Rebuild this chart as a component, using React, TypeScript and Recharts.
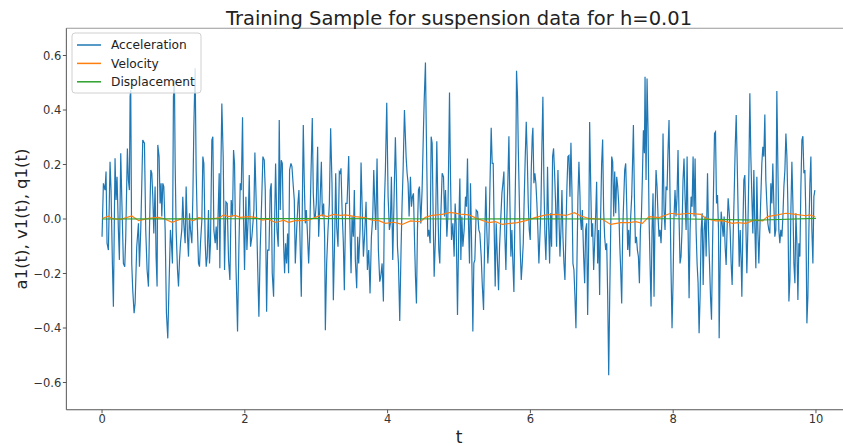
import React from 'react';
import { LineChart, Line, XAxis, YAxis, ReferenceLine } from 'recharts';

// [t, value] samples
const acceleration: [number, number][] = [
  [0, -0.065], [0.019, 0.131], [0.042, 0.106], [0.056, 0.174], [0.07, -0.089], [0.089, -0.114], [0.112, 0.21], [0.126, 0.106],
  [0.145, -0.163], [0.159, -0.322], [0.182, 0.223], [0.196, 0.07], [0.21, 0.155], [0.229, -0.04], [0.243, -0.15], [0.262, 0.241],
  [0.276, 0.082], [0.299, -0.163], [0.318, -0.175], [0.332, -0.065], [0.355, 0.259], [0.369, 0.143], [0.383, 0.106], [0.393, 0.449],
  [0.402, 0.473], [0.416, -0.163], [0.43, -0.261], [0.449, -0.346], [0.463, -0.309], [0.486, -0.102], [0.51, -0.016], [0.524, -0.175],
  [0.542, -0.04], [0.556, 0.119], [0.57, 0.29], [0.594, 0.278], [0.612, -0.04], [0.631, -0.187], [0.65, -0.248], [0.664, -0.04],
  [0.683, 0.18], [0.697, 0.168], [0.711, 0.082], [0.725, -0.053], [0.743, 0.119], [0.757, -0.138], [0.771, -0.248], [0.781, 0.272],
  [0.799, 0.229], [0.813, 0.057], [0.827, 0.131], [0.837, 0.009], [0.851, 0.131], [0.865, 0.119], [0.884, -0.04], [0.902, -0.346],
  [0.921, -0.438], [0.94, -0.224], [0.958, -0.04], [0.972, -0.089], [0.986, -0.163], [1.0, 0.449], [1.014, 0.51], [1.024, 0.204],
  [1.038, -0.04], [1.057, -0.187], [1.071, -0.248], [1.085, -0.15], [1.099, -0.089], [1.117, -0.04], [1.131, 0.082], [1.145, -0.016],
  [1.164, -0.089], [1.178, 0.119], [1.197, -0.065], [1.211, -0.138], [1.225, 0.021], [1.239, -0.04], [1.258, -0.089], [1.272, 0.082],
  [1.286, 0.339], [1.295, 0.449], [1.304, 0.553], [1.318, 0.18], [1.332, 0.009], [1.351, -0.163], [1.365, -0.175], [1.379, -0.089],
  [1.398, -0.004], [1.412, 0.229], [1.426, 0.204], [1.445, -0.089], [1.459, -0.175], [1.473, -0.138], [1.491, 0.033], [1.505, -0.163],
  [1.519, -0.089], [1.538, 0.29], [1.552, 0.302], [1.566, -0.04], [1.585, -0.089], [1.599, -0.028], [1.613, -0.114], [1.627, 0.033],
  [1.641, 0.168], [1.65, -0.181], [1.664, 0.168], [1.678, 0.424], [1.697, 0.229], [1.716, -0.187], [1.735, 0.063], [1.753, 0.057],
  [1.772, -0.15], [1.791, -0.224], [1.809, 0.07], [1.828, 0.009], [1.842, 0.253], [1.856, 0.204], [1.875, -0.163], [1.898, -0.413],
  [1.917, -0.102], [1.936, 0.131], [1.95, 0.106], [1.968, 0.373], [1.982, 0.009], [1.996, -0.187], [2.015, 0.082], [2.029, -0.114],
  [2.048, 0.009], [2.062, 0.161], [2.08, -0.102], [2.099, -0.065], [2.113, -0.016], [2.127, 0.033], [2.141, 0.244], [2.16, 0.057],
  [2.179, -0.163], [2.197, -0.359], [2.216, -0.102], [2.235, 0.057], [2.253, 0.229], [2.272, 0.216], [2.286, 0.106], [2.305, -0.34],
  [2.319, -0.114], [2.338, -0.114], [2.356, 0.106], [2.37, 0.131], [2.384, -0.199], [2.403, -0.285], [2.417, -0.016], [2.431, 0.204],
  [2.45, -0.04], [2.468, -0.102], [2.482, 0.363], [2.496, 0.033], [2.51, 0.216], [2.525, 0.204], [2.543, -0.089], [2.557, -0.199],
  [2.571, -0.089], [2.585, -0.163], [2.599, -0.053], [2.613, -0.199], [2.627, 0.18], [2.646, 0.204], [2.66, 0.192], [2.679, 0.119],
  [2.693, 0.07], [2.707, -0.163], [2.726, -0.04], [2.744, 0.057], [2.758, 0.106], [2.772, -0.065], [2.791, -0.285], [2.81, 0.155],
  [2.819, 0.345], [2.833, 0.131], [2.847, -0.016], [2.861, 0.033], [2.875, -0.04], [2.894, -0.163], [2.908, -0.065], [2.927, 0.168],
  [2.945, 0.371], [2.959, 0.094], [2.973, 0.009], [2.987, 0.009], [3.001, 0.057], [3.02, 0.265], [3.034, -0.065], [3.053, 0.057],
  [3.072, 0.21], [3.086, 0.009], [3.104, 0.057], [3.118, -0.065], [3.128, -0.408], [3.146, -0.163], [3.165, -0.04], [3.184, 0.057],
  [3.202, 0.333], [3.221, 0.131], [3.24, -0.298], [3.259, -0.065], [3.273, 0.168], [3.287, -0.028], [3.305, -0.102], [3.324, 0.174],
  [3.338, 0.168], [3.347, 0.186], [3.361, 0.045], [3.38, -0.089], [3.394, -0.261], [3.413, 0.057], [3.432, 0.057], [3.455, 0.231],
  [3.469, 0.009], [3.488, -0.199], [3.502, 0.009], [3.52, -0.065], [3.534, 0.106], [3.548, -0.15], [3.567, -0.254], [3.581, -0.065],
  [3.595, -0.163], [3.614, -0.04], [3.628, 0.207], [3.642, 0.057], [3.661, -0.138], [3.679, -0.053], [3.698, 0.063], [3.717, -0.187],
  [3.735, -0.114], [3.754, -0.273], [3.773, -0.065], [3.792, 0.009], [3.806, 0.18], [3.82, 0.057], [3.834, -0.04], [3.852, 0.222],
  [3.871, -0.114], [3.89, -0.23], [3.904, -0.212], [3.923, -0.163], [3.941, -0.303], [3.955, 0.057], [3.969, 0.18], [3.988, 0.427],
  [4.007, 0.082], [4.025, -0.04], [4.039, -0.016], [4.053, 0.155], [4.072, -0.15], [4.091, 0.082], [4.109, 0.3], [4.124, 0.131],
  [4.138, -0.102], [4.152, -0.163], [4.17, -0.374], [4.189, -0.102], [4.203, 0.057], [4.217, 0.18], [4.236, 0.4], [4.259, 0.229],
  [4.273, 0.168], [4.287, 0.131], [4.301, 0.009], [4.32, 0.155], [4.334, 0.045], [4.348, 0.082], [4.362, 0.094], [4.376, -0.065],
  [4.39, -0.212], [4.404, -0.31], [4.418, -0.04], [4.432, 0.106], [4.446, 0.119], [4.465, -0.016], [4.483, 0.106], [4.502, 0.326],
  [4.512, 0.43], [4.53, 0.574], [4.54, 0.363], [4.549, 0.192], [4.563, -0.065], [4.577, -0.04], [4.596, -0.089], [4.61, 0.302],
  [4.624, 0.278], [4.638, 0.009], [4.652, -0.212], [4.67, -0.065], [4.689, 0.285], [4.703, 0.057], [4.717, -0.114], [4.731, -0.163],
  [4.745, 0.009], [4.764, 0.168], [4.783, 0.155], [4.797, 0.009], [4.811, 0.106], [4.83, -0.065], [4.844, 0.009], [4.857, 0.253],
  [4.867, 0.464], [4.881, 0.155], [4.895, -0.077], [4.914, -0.016], [4.932, -0.138], [4.946, 0.057], [4.96, -0.016], [4.979, -0.352],
  [4.998, -0.016], [5.012, 0.149], [5.026, -0.15], [5.04, 0.009], [5.054, -0.102], [5.072, -0.04], [5.091, 0.082], [5.105, 0.045],
  [5.119, 0.222], [5.133, -0.016], [5.147, -0.163], [5.161, 0.131], [5.175, -0.065], [5.194, -0.413], [5.208, -0.163], [5.222, -0.15],
  [5.241, 0.033], [5.26, 0.027], [5.278, -0.04], [5.292, -0.053], [5.311, -0.138], [5.325, -0.236], [5.344, -0.334], [5.358, -0.102],
  [5.376, 0.119], [5.39, -0.04], [5.404, -0.163], [5.418, -0.089], [5.437, 0.168], [5.451, 0.335], [5.465, 0.204], [5.479, 0.204],
  [5.493, -0.04], [5.507, -0.248], [5.521, -0.016], [5.54, -0.163], [5.554, -0.261], [5.568, -0.102], [5.582, -0.016], [5.601, 0.094],
  [5.615, 0.131], [5.629, 0.174], [5.643, -0.065], [5.657, -0.187], [5.671, 0.009], [5.685, 0.143], [5.699, 0.304], [5.713, 0.057],
  [5.727, -0.138], [5.741, -0.04], [5.755, -0.163], [5.769, -0.268], [5.783, 0.009], [5.797, 0.253], [5.806, 0.544], [5.82, 0.449],
  [5.83, 0.265], [5.844, 0.082], [5.858, -0.114], [5.872, -0.224], [5.886, -0.163], [5.9, -0.089], [5.914, 0.082], [5.928, 0.229],
  [5.942, 0.357], [5.956, 0.229], [5.97, 0.057], [5.984, -0.04], [5.998, -0.077], [6.012, 0.18], [6.026, 0.302], [6.035, 0.335],
  [6.049, 0.131], [6.063, 0.168], [6.077, 0.131], [6.091, 0.057], [6.105, -0.04], [6.119, -0.163], [6.133, -0.065], [6.147, 0.033],
  [6.161, 0.265], [6.175, 0.449], [6.189, 0.143], [6.203, -0.053], [6.217, -0.15], [6.231, 0.009], [6.24, 0.192], [6.255, -0.016],
  [6.269, -0.163], [6.283, 0.021], [6.297, -0.102], [6.311, 0.229], [6.325, 0.259], [6.339, 0.168], [6.353, 0.057], [6.367, -0.102],
  [6.386, 0.18], [6.4, 0.009], [6.414, -0.138], [6.428, -0.04], [6.442, 0.106], [6.456, -0.065], [6.47, -0.163], [6.484, -0.224],
  [6.498, -0.04], [6.512, 0.119], [6.526, 0.229], [6.54, 0.233], [6.554, 0.082], [6.568, 0.28], [6.582, 0.106], [6.596, -0.163],
  [6.61, -0.187], [6.624, -0.285], [6.638, -0.401], [6.652, -0.163], [6.666, 0.082], [6.68, 0.21], [6.695, 0.082], [6.699, 0.009],
  [6.714, -0.04], [6.728, 0.033], [6.746, -0.138], [6.76, -0.236], [6.774, -0.04], [6.788, -0.016], [6.802, -0.352], [6.816, -0.102],
  [6.83, 0.356], [6.844, 0.143], [6.858, -0.065], [6.872, -0.016], [6.886, -0.187], [6.9, -0.089], [6.914, 0.009], [6.928, 0.137],
  [6.942, -0.163], [6.956, -0.04], [6.97, -0.279], [6.984, 0.009], [6.998, 0.204], [7.012, 0.292], [7.026, 0.033], [7.04, -0.065],
  [7.055, -0.114], [7.069, -0.089], [7.083, -0.285], [7.097, -0.573], [7.111, -0.285], [7.125, -0.04], [7.139, 0.229], [7.153, 0.21],
  [7.167, 0.009], [7.181, 0.174], [7.195, 0.021], [7.209, 0.155], [7.223, 0.119], [7.237, 0.057], [7.251, -0.089], [7.265, -0.187],
  [7.279, -0.31], [7.293, -0.04], [7.307, 0.07], [7.321, 0.18], [7.335, 0.204], [7.349, 0.057], [7.363, -0.114], [7.377, -0.04],
  [7.391, -0.138], [7.405, 0.009], [7.419, 0.082], [7.433, 0.229], [7.443, 0.345], [7.457, 0.082], [7.471, -0.089], [7.485, -0.065],
  [7.499, -0.114], [7.513, -0.138], [7.527, -0.236], [7.541, -0.04], [7.555, 0.009], [7.569, 0.155], [7.583, 0.326], [7.597, 0.241],
  [7.606, 0.522], [7.62, 0.143], [7.634, 0.516], [7.648, 0.326], [7.662, 0.009], [7.676, -0.163], [7.69, -0.321], [7.704, -0.04],
  [7.718, 0.094], [7.732, -0.285], [7.746, 0.009], [7.76, 0.18], [7.774, 0.119], [7.788, 0.009], [7.802, -0.065], [7.816, -0.04],
  [7.83, -0.089], [7.844, 0.009], [7.858, 0.314], [7.872, 0.033], [7.886, -0.04], [7.9, 0.119], [7.914, 0.106], [7.928, 0.253],
  [7.942, 0.363], [7.956, 0.082], [7.97, -0.187], [7.984, -0.401], [7.998, -0.236], [8.012, 0.009], [8.026, 0.106], [8.04, 0.009],
  [8.054, 0.082], [8.068, 0.253], [8.082, 0.009], [8.096, -0.163], [8.11, -0.138], [8.124, -0.04], [8.138, 0.143], [8.152, 0.222],
  [8.166, 0.082], [8.181, -0.04], [8.195, 0.229], [8.209, -0.04], [8.223, -0.291], [8.237, -0.04], [8.251, 0.082], [8.265, 0.045],
  [8.279, 0.229], [8.293, 0.009], [8.307, 0.222], [8.321, -0.04], [8.335, -0.163], [8.349, -0.236], [8.363, -0.419], [8.377, -0.285],
  [8.392, -0.04], [8.406, 0.021], [8.42, -0.242], [8.434, -0.04], [8.448, 0.009], [8.462, -0.138], [8.481, 0.168], [8.495, -0.04],
  [8.509, -0.163], [8.523, -0.285], [8.537, -0.37], [8.551, -0.102], [8.565, 0.106], [8.579, 0.314], [8.593, 0.32], [8.607, 0.057],
  [8.621, 0.088], [8.635, -0.04], [8.644, -0.438], [8.658, -0.163], [8.672, 0.027], [8.686, -0.016], [8.7, -0.065], [8.714, 0.009],
  [8.728, -0.102], [8.742, -0.169], [8.756, -0.028], [8.77, 0.076], [8.784, 0.027], [8.798, -0.04], [8.812, -0.163], [8.826, -0.242],
  [8.84, -0.065], [8.854, 0.082], [8.869, 0.265], [8.883, 0.382], [8.897, 0.204], [8.911, 0.009], [8.925, -0.175], [8.939, -0.04],
  [8.953, -0.163], [8.962, -0.285], [8.976, -0.04], [8.99, 0.143], [9.004, 0.161], [9.018, -0.016], [9.032, -0.199], [9.046, -0.04],
  [9.06, 0.168], [9.074, 0.461], [9.088, 0.229], [9.102, 0.082], [9.116, -0.053], [9.13, 0.18], [9.144, -0.028], [9.158, -0.181],
  [9.172, 0.155], [9.186, -0.04], [9.2, -0.163], [9.214, -0.04], [9.228, 0.082], [9.242, 0.204], [9.256, 0.265], [9.27, 0.229],
  [9.284, 0.383], [9.298, 0.143], [9.312, 0.057], [9.326, -0.016], [9.34, -0.04], [9.354, -0.053], [9.368, 0.131], [9.382, 0.057],
  [9.396, 0.204], [9.41, 0.057], [9.424, -0.065], [9.438, -0.04], [9.452, 0.47], [9.466, 0.204], [9.48, -0.04], [9.494, -0.089],
  [9.508, -0.04], [9.523, -0.065], [9.537, 0.009], [9.551, 0.119], [9.565, 0.18], [9.579, 0.314], [9.593, 0.229], [9.607, 0.045],
  [9.621, -0.303], [9.635, -0.224], [9.649, 0.033], [9.663, 0.21], [9.677, 0.057], [9.691, -0.163], [9.705, -0.236], [9.719, 0.021],
  [9.733, -0.089], [9.747, -0.297], [9.761, -0.089], [9.775, -0.138], [9.789, 0.119], [9.803, 0.29], [9.817, 0.304], [9.831, 0.168],
  [9.845, 0.18], [9.859, 0.009], [9.873, -0.383], [9.887, -0.285], [9.901, -0.04], [9.915, 0.131], [9.929, 0.229], [9.943, -0.04],
  [9.957, -0.163], [9.971, 0.082], [9.985, 0.106],
];

const velocity: [number, number][] = [
  [0, 0.002], [0.089, 0.01], [0.136, 0.002], [0.25, -0.002], [0.416, 0.011], [0.514, -0.006], [0.65, 0.002], [0.79, 0.006],
  [0.86, 0.002], [0.982, -0.012], [1.117, 0.001], [1.187, 0], [1.281, -0.006], [1.351, 0.005], [1.445, 0.001], [1.538, 0.001],
  [1.641, 0.004], [1.702, 0.015], [1.772, 0.009], [1.865, 0.013], [1.936, 0.006], [2.052, 0.009], [2.146, 0.006], [2.239, -0.004],
  [2.333, -0.001], [2.426, -0.012], [2.473, -0.01], [2.543, -0.004], [2.613, -0.012], [2.707, -0.006], [2.8, -0.006], [2.894, -0.004],
  [2.987, 0.006], [3.081, 0.015], [3.151, 0.009], [3.245, 0.017], [3.338, 0.013], [3.408, 0.015], [3.548, 0.009], [3.689, 0.005],
  [3.782, -0.004], [3.876, -0.006], [3.969, -0.016], [4.086, -0.012], [4.203, -0.02], [4.32, -0.007], [4.46, -0.01], [4.53, 0.006],
  [4.624, 0.013], [4.764, 0.017], [4.881, 0.024], [5.021, 0.018], [5.138, 0.015], [5.278, -0.001], [5.418, -0.013], [5.512, -0.01],
  [5.605, -0.02], [5.722, -0.016], [5.816, -0.013], [5.937, -0.006], [6.077, 0.006], [6.217, 0.015], [6.358, 0.017], [6.498, 0.013],
  [6.615, 0.023], [6.708, 0.011], [6.821, 0.002], [7.008, -0.001], [7.125, -0.02], [7.265, -0.013], [7.382, -0.013], [7.475, -0.01],
  [7.569, -0.016], [7.662, 0.009], [7.802, 0.005], [7.966, 0.021], [8.082, 0.017], [8.223, 0.021], [8.386, 0.017], [8.457, 0.002],
  [8.597, -0.007], [8.691, -0.006], [8.831, -0.016], [8.901, -0.013], [9.018, -0.016], [9.135, -0.004], [9.252, -0.007], [9.322, 0.009],
  [9.462, 0.015], [9.579, 0.021], [9.719, 0.017], [9.859, 0.012], [9.906, 0.015], [9.985, 0.009],
];

const displacement: [number, number][] = [
  [0, 0], [1, 0.0005], [2, 0.001], [3, 0.0015], [4, 0.001], [5, 0], [6, 0.0008], [7, 0], [8, 0.001], [9.2, -0.004], [10, 0.002],
];

const xTicks = [0, 2, 4, 6, 8, 10];
const yTicks = [-0.6, -0.4, -0.2, 0, 0.2, 0.4, 0.6];
const seriesNames = ['Acceleration', 'Velocity', 'Displacement'];
const colors = ['#1f77b4', '#ff7f0e', '#2ca02c'];
const titleText = 'Training Sample for suspension data for h=0.01';
const xLabel = 't';
const yLabel = 'a1(t), v1(t), q1(t)';

const accData = acceleration.map(([t, v]) => ({ t, v }));
const velData = velocity.map(([t, v]) => ({ t, v }));
const dispData = displacement.map(([t, v]) => ({ t, v }));

const FONT = 'DejaVu Sans, sans-serif';
const fmtY = (v: number) => (v < 0 ? '\u2212' : '') + Math.abs(v).toFixed(1);

export default function App() {
  return (
    <div style={{ position: 'absolute', left: 0, top: 0, width: 843, height: 446, overflow: 'hidden', background: '#fff' }}>
      <LineChart
        width={860}
        height={446}
        margin={{ top: 28.25, right: 8.35, bottom: 0, left: 6.35 }}
        style={{ fontFamily: FONT }}
      >
        <XAxis
          dataKey="t"
          type="number"
          domain={[-0.5, 10.5]}
          ticks={xTicks}
          allowDataOverflow
          height={36.25}
          stroke="#555"
          tickSize={3.5}
          tickMargin={2}
          tick={{ fill: '#333', fontSize: 11.5, fontFamily: FONT }}
          tickLine={{ stroke: '#555' }}
        />
        <YAxis
          type="number"
          domain={[-0.7, 0.7]}
          ticks={yTicks}
          allowDataOverflow
          width={60}
          stroke="#555"
          tickSize={3.5}
          tickMargin={1.5}
          tickFormatter={fmtY}
          tick={{ fill: '#333', fontSize: 11.5, fontFamily: FONT }}
          tickLine={{ stroke: '#555' }}
        />
        <ReferenceLine y={0.7} stroke="#999" strokeWidth={1} ifOverflow="extendDomain" />
        <Line data={accData} dataKey="v" name={seriesNames[0]} stroke={colors[0]} strokeWidth={1.2} dot={false} isAnimationActive={false} />
        <Line data={velData} dataKey="v" name={seriesNames[1]} stroke={colors[1]} strokeWidth={1.2} dot={false} isAnimationActive={false} />
        <Line data={dispData} dataKey="v" name={seriesNames[2]} stroke={colors[2]} strokeWidth={1.2} dot={false} isAnimationActive={false} />
      </LineChart>
      <svg width={843} height={446} style={{ position: 'absolute', left: 0, top: 0, pointerEvents: 'none' }}>
        <text x={459} y={24.5} textAnchor="middle" fontSize={19.5} fontFamily={FONT} fill="#222">{titleText}</text>
        <text x={459} y={443} textAnchor="middle" fontSize={17} fontFamily={FONT} fill="#222">{xLabel}</text>
        <text x={27} y={219} textAnchor="middle" fontSize={16.5} fontFamily={FONT} fill="#222" transform="rotate(-90 27 219)">{yLabel}</text>
        <rect x={72} y={33} width={129} height={60} rx={3} fill="#fff" fillOpacity={0.8} stroke="#d0d0d0" />
        {seriesNames.map((n, i) => (
          <g key={n}>
            <line x1={77} x2={101} y1={45 + i * 18.4} y2={45 + i * 18.4} stroke={colors[i]} strokeWidth={1.5} />
            <text x={111} y={49.3 + i * 18.4} fontSize={12.2} fontFamily={FONT} fill="#222">{n}</text>
          </g>
        ))}
      </svg>
    </div>
  );
}
